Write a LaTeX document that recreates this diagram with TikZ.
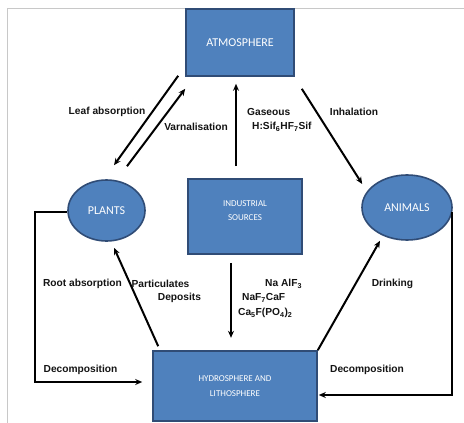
\documentclass[tikz,border=0pt]{standalone}
\usepackage{fontspec}
\setmainfont{Liberation Sans}
\newfontfamily\boxfont{Carlito}
\usetikzlibrary{shapes.geometric,arrows.meta,calc}
\definecolor{B}{RGB}{79,129,189}
\definecolor{D}{RGB}{48,76,118}
\definecolor{G}{RGB}{200,200,200}
\definecolor{T}{RGB}{20,20,20}
\tikzset{
  box/.style={draw=D, line width=1.6pt, fill=B, text=white, align=center,
    font=\boxfont\fontsize{12}{14}\selectfont},
  boxsmall/.style={text=white, align=center, font=\boxfont\fontsize{9}{14.5}\selectfont},
  blob/.style={box, ellipse, inner sep=0pt},
  flow/.style={line width=2pt, -{Stealth[length=7pt,width=6pt]}},
  lbl/.style={text=T, inner sep=0pt, font=\fontsize{10.2}{12}\selectfont\bfseries},
}
\newcommand{\drawflow}{\draw[flow]}

\begin{document}
\begin{tikzpicture}[x=1pt,y=-1pt]
\useasboundingbox[fill=white] (0,0) rectangle (464,423);
\draw[G, line width=1pt] (7,423)--(7,8)--(464,8);
% boxes
\node[box, minimum width=108pt, minimum height=67pt] (atm) at (240,42.5) {ATMOSPHERE};
\node[box, minimum width=114pt, minimum height=75pt,
  label={[boxsmall, yshift=6pt]center:INDUSTRIAL\\SOURCES}] (ind) at (245,216.5) {};
\node[box, minimum width=164pt, minimum height=70pt,
  font=\boxfont\fontsize{9}{14.5}\selectfont] (hyd) at (235,386) {HYDROSPHERE AND\\LITHOSPHERE};
\node[blob, minimum width=77pt, minimum height=61pt] (plants) at (106.5,210.5) {PLANTS};
\node[blob, minimum width=90pt, minimum height=65pt] (animals) at (407,207.5) {ANIMALS};
\coordinate (plcorner) at (35,212);
\coordinate (ancorner) at (452,212);
% arrows
\drawflow ($(atm.south west)+(-7,-1)$) -- ($(plants.north)+(7.5,-14)$);
\drawflow ($(plants.north)+(20.5,-13)$) -- ($(atm.south west)+(0,12)$);
\drawflow ($(ind.north)+(-9,-12)$) -- ($(atm.south)+(-4,7)$);
\drawflow ($(atm.south east)+(7,12)$) -- ($(animals.west)+(1,-23.5)$);
\drawflow ($(hyd.north west)+(6,-4)$) -- ($(plants.south)+(7.5,6)$);
\drawflow ($(ind.south)+(-14,8)$) -- ($(ind.south)+(-14,83)$);
\drawflow (hyd.north east) -- ($(animals.south)+(-27,0)$);
\drawflow (plants.west |- plcorner) -- (plcorner) |- ($(hyd.west)+(-10,-4)$);
\drawflow (ancorner) |- ($(hyd.east)+(1,9)$);
% labels
\node[lbl] (leaf) at (107,112) {Leaf absorption};
\node[lbl] (varn) at (196,127) {Varnalisation};
\node[lbl, anchor=west] (gas) at (247,112) {Gaseous};
\node[lbl, anchor=west] (gasf) at (252,127) {H:Sif\textsubscript{6}HF\textsubscript{7}Sif};
\node[lbl] (inh) at (354,112) {Inhalation};
\node[lbl] (root) at (82.5,284) {Root absorption};
\node[lbl] (part) at (160.5,284) {Particulates};
\node[lbl] (dep) at (179.5,298) {Deposits};
\node[lbl, anchor=west] (na) at (265,284) {Na AlF\textsubscript{3}};
\node[lbl, anchor=west] (naf) at (242,298) {NaF\textsubscript{7}CaF};
\node[lbl, anchor=west] (ca) at (238,313) {Ca\textsubscript{5}F(PO\textsubscript{4})\textsubscript{2}};
\node[lbl] (drink) at (392.5,284) {Drinking};
\node[lbl] (decl) at (80.5,370) {Decomposition};
\node[lbl] (decr) at (367,370) {Decomposition};
\end{tikzpicture}
\end{document}
